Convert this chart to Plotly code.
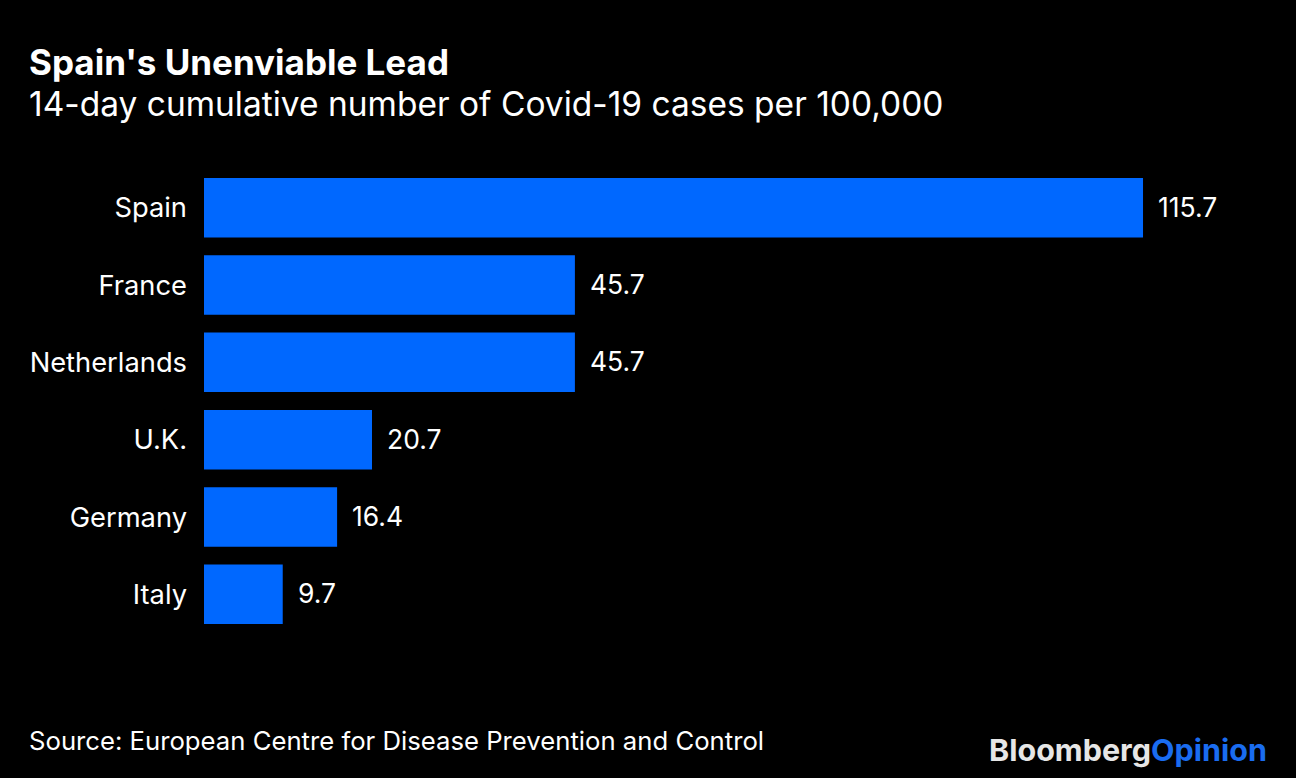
import plotly.graph_objects as go

countries = ["Spain", "France", "Netherlands", "U.K.", "Germany", "Italy"]
values = [115.7, 45.7, 45.7, 20.7, 16.4, 9.7]
value_labels = ["115.7", "45.7", "45.7", "20.7", "16.4", "9.7"]

W, H = 1296, 778
ML, MR, MT, MB = 204, 37, 169, 145
PW = W - ML - MR
PH = H - MT - MB
FONT = "Inter"
BAR = "#0068FF"


def px(x):
    return (x - ML) / PW


def py(y):
    return (H - MB - y) / PH


fig = go.Figure()
fig.add_trace(go.Bar(
    x=values, y=countries, orientation="h",
    marker=dict(color=BAR, line=dict(width=0)),
    hoverinfo="skip",
))

annotations = []
for c, v, lab in zip(countries, values, value_labels):
    annotations.append(dict(
        x=v, y=c, xref="x", yref="y", text=lab, showarrow=False,
        xanchor="left", yanchor="middle", xshift=13, yshift=1,
        font=dict(family=FONT, size=26.5, color="white"),
    ))

annotations += [
    dict(x=px(27), y=py(62), xref="paper", yref="paper", xanchor="left", yanchor="middle",
         text="<b>Spain's Unenviable Lead</b>", showarrow=False,
         font=dict(family=FONT, size=35, color="white")),
    dict(x=px(27), y=py(104), xref="paper", yref="paper", xanchor="left", yanchor="middle",
         text="14-day cumulative number of Covid-19 cases per 100,000", showarrow=False,
         font=dict(family=FONT, size=33.5, color="white")),
    dict(x=px(27), y=py(740), xref="paper", yref="paper", xanchor="left", yanchor="middle",
         text="Source: European Centre for Disease Prevention and Control", showarrow=False,
         font=dict(family=FONT, size=25.7, color="white")),
    dict(x=px(1269), y=py(749), xref="paper", yref="paper", xanchor="right", yanchor="middle",
         text="<b><span style='color:#E6E6E6'>Bloomberg</span><span style='color:#1A6CF0'>Opinion</span></b>",
         showarrow=False, font=dict(family=FONT, size=30.5, color="white")),
]

fig.update_layout(
    width=W, height=H,
    margin=dict(l=ML, r=MR, t=MT, b=MB, pad=0),
    paper_bgcolor="black", plot_bgcolor="black",
    bargap=0.23,
    showlegend=False,
    annotations=annotations,
    xaxis=dict(range=[0, PW / 8.116], visible=False, fixedrange=True),
    yaxis=dict(autorange="reversed", showgrid=False, zeroline=False, showline=False,
               ticks="", ticklabelstandoff=16,
               tickfont=dict(family=FONT, size=27.3, color="white"), fixedrange=True),
)

fig.write_html("out.html", config={"displayModeBar": False})
